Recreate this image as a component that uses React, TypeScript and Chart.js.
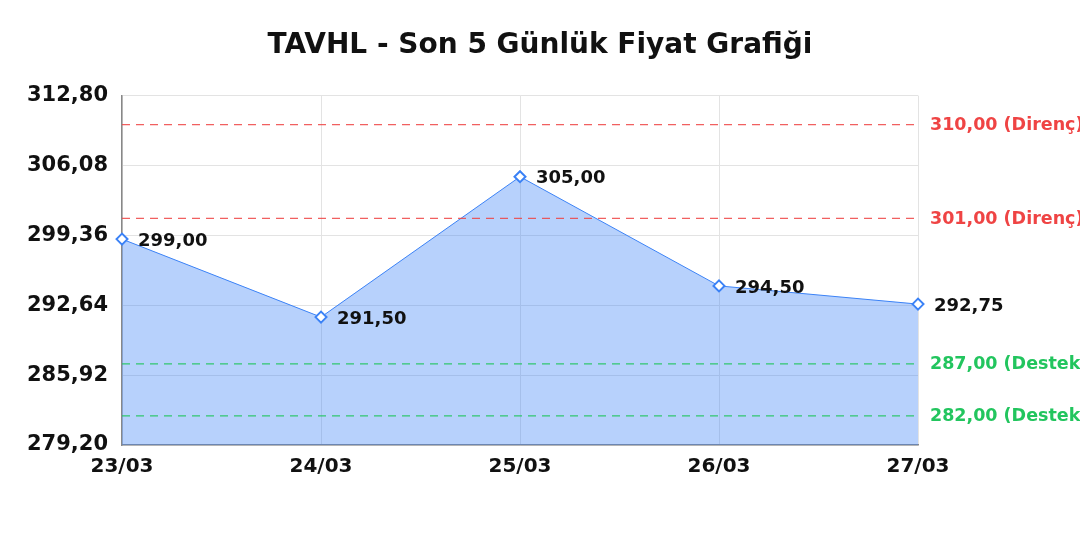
import React, { useRef, useEffect } from 'react';
import { Chart, registerables } from 'chart.js';

Chart.register(...registerables);

const chartTitle = 'TAVHL - Son 5 Günlük Fiyat Grafiği';
const dates = ['23/03', '24/03', '25/03', '26/03', '27/03'];
const prices = [299.0, 291.5, 305.0, 294.5, 292.75];
const yTicks = [279.2, 285.92, 292.64, 299.36, 306.08, 312.8];
const resistanceLevels = [310, 301];
const supportLevels = [287, 282];

const fmt = (v: number) => v.toFixed(2).replace('.', ',');
const FONT = "'DejaVu Sans', sans-serif";

const levelsPlugin = {
  id: 'levels',
  afterDatasetsDraw(chart: any) {
    const { ctx, chartArea, scales } = chart;
    const y = scales.y;
    const draw = (values: number[], line: string, text: string, tag: string) => {
      values.forEach((v) => {
        const py = y.getPixelForValue(v);
        ctx.save();
        ctx.strokeStyle = line;
        ctx.lineWidth = 1.2;
        ctx.setLineDash([8, 6]);
        ctx.beginPath();
        ctx.moveTo(chartArea.left, py);
        ctx.lineTo(chartArea.right, py);
        ctx.stroke();
        ctx.setLineDash([]);
        ctx.fillStyle = text;
        ctx.font = `bold 17.5px ${FONT}`;
        ctx.textBaseline = 'middle';
        ctx.textAlign = 'left';
        ctx.fillText(`${fmt(v)} (${tag})`, chartArea.right + 12, py + 1);
        ctx.restore();
      });
    };
    draw(resistanceLevels, 'rgba(239, 68, 68, 0.85)', '#ef4444', 'Direnç');
    draw(supportLevels, 'rgba(34, 197, 94, 0.9)', '#22c55e', 'Destek');

    // point labels
    const meta = chart.getDatasetMeta(0);
    ctx.save();
    ctx.fillStyle = '#111';
    ctx.font = `bold 18px ${FONT}`;
    ctx.textBaseline = 'middle';
    ctx.textAlign = 'left';
    meta.data.forEach((pt: any, i: number) => {
      ctx.fillText(fmt(prices[i]), pt.x + 16, pt.y + 2);
    });
    ctx.restore();
  },
};

const App: React.FC = () => {
  const chartRef = useRef<HTMLCanvasElement>(null);
  const chartInstance = useRef<Chart | null>(null);

  useEffect(() => {
    document.body.style.margin = '0';
    if (!chartRef.current) return;
    const ctx = chartRef.current.getContext('2d');
    if (!ctx) return;
    if (chartInstance.current) chartInstance.current.destroy();

    chartInstance.current = new Chart(ctx, {
      type: 'line',
      data: {
        labels: dates,
        datasets: [
          {
            label: 'Fiyat',
            data: prices,
            borderColor: '#3b82f6',
            backgroundColor: 'rgba(59, 130, 246, 0.37)',
            borderWidth: 1,
            fill: 'start',
            tension: 0,
            pointStyle: 'rectRot',
            pointRadius: 5.5,
            pointBorderWidth: 2,
            pointBackgroundColor: '#ffffff',
            pointBorderColor: '#3b82f6',
          },
        ],
      },
      options: {
        animation: false,
        responsive: true,
        maintainAspectRatio: false,
        layout: { padding: { top: 0, right: 0, bottom: 51, left: 0 } },
        plugins: {
          legend: { display: false },
          tooltip: { enabled: false },
          title: {
            display: true,
            text: chartTitle,
            color: '#111',
            font: { family: FONT, size: 28, weight: 'bold' },
            padding: { top: 29, bottom: 33 },
          },
        },
        scales: {
          x: {
            offset: false,
            grid: { color: '#e3e3e3', drawTicks: false },
            border: { color: '#888', width: 1.5 },
            ticks: {
              color: '#111',
              padding: 10,
              maxRotation: 0,
              font: { family: FONT, size: 20, weight: 'bold' },
            },
          },
          y: {
            min: yTicks[0],
            max: yTicks[yTicks.length - 1],
            afterBuildTicks: (scale: any) => {
              scale.ticks = yTicks.map((v) => ({ value: v }));
            },
            afterFit: (scale: any) => {
              scale.width = 122;
            },
            grid: { color: '#e3e3e3', drawTicks: false },
            border: { color: '#888', width: 1.5 },
            ticks: {
              color: '#111',
              padding: 14,
              font: { family: FONT, size: 21, weight: 'bold' },
              callback: (value: any) => fmt(Number(value)),
            },
          },
          // empty right axis that keeps room for the level labels
          yRight: {
            position: 'right',
            min: 0,
            max: 1,
            afterFit: (scale: any) => {
              scale.width = 162;
            },
            grid: { display: false },
            border: { display: false },
            ticks: { display: false },
          },
        },
      },
      plugins: [levelsPlugin],
    });

    return () => {
      if (chartInstance.current) {
        chartInstance.current.destroy();
        chartInstance.current = null;
      }
    };
  }, []);

  return (
    <div style={{ position: 'relative', width: 1080, height: 540 }}>
      <canvas ref={chartRef} />
    </div>
  );
};

export default App;
